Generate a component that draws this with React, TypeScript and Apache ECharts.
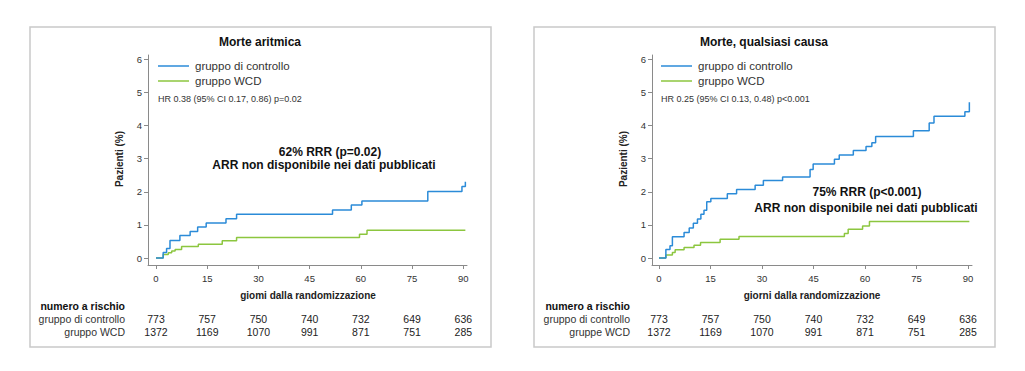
import { useEffect, useRef } from "react";
import * as echarts from "echarts";

// ---------- data ----------
const xTicks = [0, 15, 30, 45, 60, 75, 90];
const yTicks = [0, 1, 2, 3, 4, 5, 6];

const panelTitles = ["Morte aritmica", "Morte, qualsiasi causa"];
const xAxisNames = ["giomi dalla randomizzazione", "giorni dalla randomizzazione"];
const yAxisName = "Pazienti (%)";
const seriesNames = ["gruppo di controllo", "gruppo WCD"];
const hrTexts = [
  "HR 0.38 (95% CI 0.17, 0.86) p=0.02",
  "HR 0.25 (95% CI 0.13, 0.48) p<0.001",
];
const rrrTexts = ["62% RRR (p=0.02)", "75% RRR (p<0.001)"];
const arrText = "ARR non disponibile nei dati pubblicati";
const riskTitle = "numero a rischio";
const riskRowLabels = [
  ["gruppo di controllo", "gruppo WCD"],
  ["gruppo di controllo", "gruppe WCD"],
];
const riskControl = [773, 757, 750, 740, 732, 649, 636];
const riskWCD = [1372, 1169, 1070, 991, 871, 751, 285];

// Kaplan-Meier style cumulative incidence (%), [day, value after step]
const aritmicaControllo = [
  [0, 0], [2.1, 0.17], [3.1, 0.29], [4.1, 0.53], [7.0, 0.68], [10.0, 0.8],
  [12.2, 0.94], [14.7, 1.06], [20.5, 1.19], [23.6, 1.32], [51.7, 1.45],
  [57.2, 1.6], [60.3, 1.72], [79.6, 2.01], [89.6, 2.16], [90.6, 2.3],
];
const aritmicaWCD = [
  [0, 0], [2.1, 0.11], [3.6, 0.16], [4.6, 0.21], [5.6, 0.26], [7.5, 0.35],
  [12.4, 0.42], [19.4, 0.52], [23.6, 0.62], [59.6, 0.72], [61.8, 0.84],
  [90.6, 0.84],
];
const qualsiasiControllo = [
  [0, 0], [2.0, 0.26], [3.2, 0.37], [3.9, 0.64], [7.3, 0.77], [8.8, 0.91],
  [10.0, 1.05], [11.2, 1.18], [12.2, 1.32], [13.1, 1.44], [13.9, 1.7],
  [15.1, 1.8], [19.9, 1.94], [22.6, 2.07], [28.0, 2.2], [30.4, 2.34],
  [36.0, 2.45], [44.0, 2.67], [44.9, 2.84], [51.1, 2.98], [52.5, 3.11],
  [56.6, 3.25], [60.3, 3.37], [62.0, 3.48], [63.1, 3.67], [74.1, 3.84],
  [78.7, 4.08], [80.1, 4.28], [89.1, 4.42], [90.4, 4.7],
];
const qualsiasiWCD = [
  [0, 0], [2.0, 0.09], [3.9, 0.17], [4.7, 0.25], [7.3, 0.32], [10.2, 0.39],
  [12.1, 0.47], [17.8, 0.57], [23.3, 0.65], [54.0, 0.74], [55.1, 0.87],
  [59.3, 0.97], [61.3, 1.1], [90.4, 1.1],
];

const BLUE = "#2b8bd8";
const GREEN = "#8cc63f";
const FONT = "'Liberation Sans', Arial, Helvetica, sans-serif";

export default function App() {
  const ref = useRef<HTMLDivElement>(null);

  useEffect(() => {
    document.body.style.margin = "0";
    if (!ref.current) return;
    const chart = echarts.init(ref.current, undefined, { renderer: "svg" });

    const axisLineStyle = { color: "#8a8a8a", width: 1 };
    const mkX = (gridIndex: number, min: number, max: number) => ({
      type: "value",
      gridIndex,
      min,
      max,
      splitLine: { show: false },
      axisLine: { show: true, onZero: false, lineStyle: axisLineStyle },
      axisTick: { show: true, length: 4, customValues: xTicks, lineStyle: axisLineStyle },
      axisLabel: {
        customValues: xTicks,
        margin: 8,
        fontSize: 9.5,
        color: "#333",
        fontFamily: FONT,
      },
    });
    const mkY = (gridIndex: number) => ({
      type: "value",
      gridIndex,
      min: -0.21,
      max: 6.13,
      splitLine: { show: false },
      axisLine: { show: true, onZero: false, lineStyle: axisLineStyle },
      axisTick: { show: true, length: 4, customValues: yTicks, lineStyle: axisLineStyle },
      axisLabel: {
        customValues: yTicks,
        margin: 6,
        fontSize: 9.5,
        color: "#333",
        fontFamily: FONT,
      },
    });
    const mkSeries = (name: string, data: number[][], idx: number, color: string) => ({
      type: "line",
      name,
      data,
      xAxisIndex: idx,
      yAxisIndex: idx,
      step: "end",
      symbol: "none",
      lineStyle: { color, width: 1.5 },
      itemStyle: { color },
      z: color === BLUE ? 3 : 2,
    });

    chart.setOption({
      animation: false,
      grid: [
        { left: 148, top: 55, width: 319, height: 210 },
        { left: 652, top: 55, width: 320, height: 210 },
      ],
      xAxis: [mkX(0, -2.34, 91.08), mkX(1, -2.04, 91.17)],
      yAxis: [mkY(0), mkY(1)],
      series: [
        mkSeries(seriesNames[1], aritmicaWCD, 0, GREEN),
        mkSeries(seriesNames[0], aritmicaControllo, 0, BLUE),
        mkSeries(seriesNames[1], qualsiasiWCD, 1, GREEN),
        mkSeries(seriesNames[0], qualsiasiControllo, 1, BLUE),
      ],
    });

    const boxes = [
      { x: 30, w: 461 },
      { x: 534, w: 461 },
    ];
    const panels = [
      { titleX: 260, legX: 158, y0: 148, rrr: [330, 152], arr: [324, 165], yName: 119, xName: 308, rowLabelX: 125 },
      { titleX: 764, legX: 661, y0: 652, rrr: [867, 192], arr: [866, 208], yName: 623, xName: 812, rowLabelX: 630 },
    ];

    const elements: any[] = [];
    const txt = (x: number, y: number, text: string, fontSize: number, opts: any = {}) => ({
      type: "text",
      x,
      y,
      silent: true,
      style: {
        text,
        fontSize,
        fontFamily: FONT,
        fill: opts.fill || "#222",
        fontWeight: opts.bold ? "bold" : "normal",
        align: opts.align || "center",
        verticalAlign: "middle",
      },
      rotation: opts.rotation || 0,
      z: 10,
    });

    panels.forEach((p, i) => {
      elements.push({
        type: "rect",
        shape: { x: boxes[i].x, y: 27, width: boxes[i].w, height: 320 },
        style: { fill: "none", stroke: "#c9c9c9", lineWidth: 1.5 },
        silent: true,
        z: 1,
      });
      elements.push(txt(p.titleX, 42, panelTitles[i], 12, { bold: true, fill: "#111" }));
      // legend
      elements.push({
        type: "line",
        shape: { x1: p.legX, y1: 66, x2: p.legX + 31, y2: 66 },
        style: { stroke: BLUE, lineWidth: 1.5 },
        silent: true,
        z: 10,
      });
      elements.push({
        type: "line",
        shape: { x1: p.legX, y1: 81, x2: p.legX + 31, y2: 81 },
        style: { stroke: GREEN, lineWidth: 1.5 },
        silent: true,
        z: 10,
      });
      elements.push(txt(p.legX + 37, 66, seriesNames[0], 11.5, { align: "left", fill: "#333" }));
      elements.push(txt(p.legX + 37, 81, seriesNames[1], 11.5, { align: "left", fill: "#333" }));
      elements.push(txt(p.legX, 99, hrTexts[i], 9, { align: "left", fill: "#333" }));
      // annotations
      elements.push(txt(p.rrr[0], p.rrr[1], rrrTexts[i], 12, { bold: true, fill: "#111" }));
      elements.push(txt(p.arr[0], p.arr[1], arrText, 12, { bold: true, fill: "#111" }));
      // axis names
      elements.push(txt(p.yName, 159, yAxisName, 10, { bold: true, fill: "#222", rotation: Math.PI / 2 }));
      elements.push(txt(p.xName, 295, xAxisNames[i], 10, { bold: true, fill: "#222" }));
      // risk table
      elements.push(txt(p.rowLabelX, 306, riskTitle, 10.5, { bold: true, align: "right", fill: "#111" }));
      elements.push(txt(p.rowLabelX, 318.5, riskRowLabels[i][0], 10.5, { align: "right", fill: "#333" }));
      elements.push(txt(p.rowLabelX, 332, riskRowLabels[i][1], 10.5, { align: "right", fill: "#333" }));
      xTicks.forEach((d, k) => {
        const px = chart.convertToPixel({ xAxisIndex: i }, d) as number;
        elements.push(txt(px, 318.5, String(riskControl[k]), 10.5, { fill: "#222" }));
        elements.push(txt(px, 332, String(riskWCD[k]), 10.5, { fill: "#222" }));
      });
    });

    chart.setOption({ graphic: { elements } });

    return () => chart.dispose();
  }, []);

  return <div ref={ref} style={{ width: 1025, height: 371 }} />;
}
